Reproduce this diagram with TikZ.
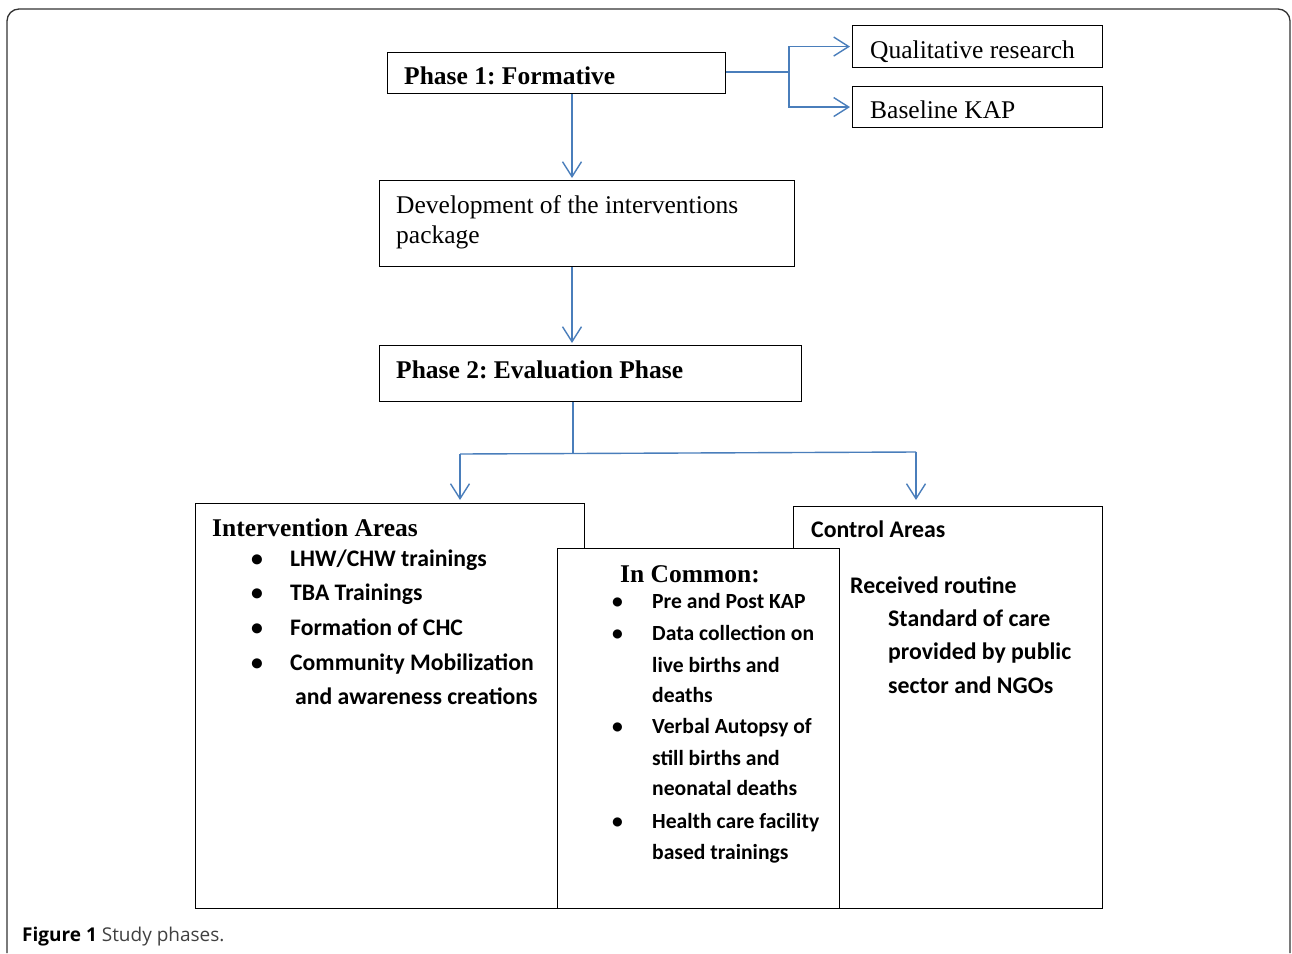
\documentclass[tikz,border=0pt]{standalone}
\usepackage{fontspec}
\setmainfont{Liberation Serif}
\newfontfamily\carl{Carlito}
\newfontfamily\capf{Open Sans}
\usetikzlibrary{arrows.meta}
\definecolor{lineblue}{RGB}{74,126,187}
\frenchspacing
\tikzset{
  box/.style={draw=black, line width=1.1pt, rectangle, inner sep=0pt, anchor=north west, fill=white},
  conn/.style={draw=lineblue, line width=1.4pt},
  arr/.style={conn, -{Straight Barb[length=15pt,width=19pt,line width=1.4pt]}},
  serb/.style={anchor=base west, inner sep=0pt, font=\fontsize{25.5}{30}\selectfont\bfseries},
  serr/.style={anchor=base west, inner sep=0pt, font=\fontsize{25.5}{30}\selectfont},
  sansa/.style={anchor=base west, inner sep=0pt, font=\fontsize{23.7}{28}\selectfont\carl\bfseries},
  sansc/.style={anchor=base west, inner sep=0pt, font=\fontsize{23.8}{28}\selectfont\carl\bfseries},
  sansb/.style={anchor=base west, inner sep=0pt, font=\fontsize{21.6}{25}\selectfont\carl\bfseries},
}
\begin{document}
\begin{tikzpicture}[x=1pt,y=-1pt]
\useasboundingbox (0,0) rectangle (1292,953);
% outer frame (open at bottom)
\draw[line width=1.3pt, black!80, rounded corners=12pt] (7,953) -- (7,9) -- (1290,9) -- (1290,953);

% top boxes
\node[box, minimum width=338pt, minimum height=41pt] (p1) at (387,52) {};
\node[box, minimum width=250pt, minimum height=42pt] (qual) at (852,25) {};
\node[box, minimum width=250pt, minimum height=41pt] (kap) at (852,86) {};
\node[box, minimum width=415pt, minimum height=86pt] (dev) at (379,180) {};
\node[box, minimum width=422pt, minimum height=56pt] (p2) at (379,345) {};

% bottom boxes
\node[box, minimum width=389pt, minimum height=405pt] (iv) at (195,503) {};
\node[box, minimum width=309pt, minimum height=402pt] (ctl) at (793,506) {};
\node[box, minimum width=282pt, minimum height=360pt] (com) at (557,548) {};

% texts
\node[serb] (t1) at (404,84) {Phase 1: Formative};
\node[serr] (tq) at (870,58) {Qualitative research};
\node[serr] (tk) at (870,118) {Baseline KAP};
\node[serr] (td1) at (396,213) {Development of the interventions};
\node[serr] (td2) at (396,243) {package};
\node[serb] (tp2) at (396,378) {Phase 2: Evaluation Phase};

\node[serb] (tiv) at (212,536) {Intervention Areas};
\foreach \y/\n in {566/a,600/b,635/c,670/d}{
  \node[sansa] (bi\n) at (251,\y) {•};
}
\node[sansa] (i1) at (290,566) {LHW/CHW trainings};
\node[sansa] (i2) at (290,600) {TBA Trainings};
\node[sansa] (i3) at (290,635) {Formation of CHC};
\node[sansa] (i4) at (290,670) {Community Mobilization};
\node[sansa] (i5) at (295,704) {and awareness creations};

\node[serb] (tcom) at (620,582) {In Common:};
\foreach \y/\n in {608/a,640/b,733/c,828/d}{
  \node[sansb] (bc\n) at (612,\y) {•};
}
\node[sansb] (c1) at (652,608) {Pre and Post KAP};
\node[sansb] (c2) at (652,640) {Data collection on};
\node[sansb] (c3) at (652,672) {live births and};
\node[sansb] (c4) at (652,702) {deaths};
\node[sansb] (c5) at (652,733) {Verbal Autopsy of};
\node[sansb] (c6) at (652,765) {still births and};
\node[sansb] (c7) at (652,795) {neonatal deaths};
\node[sansb] (c8) at (652,828) {Health care facility};
\node[sansb] (c9) at (652,859) {based trainings};

\node[sansc] (tctl) at (811,537) {Control Areas};
\node[sansc] (k1) at (850,593) {Received routine};
\node[sansc] (k2) at (888,626) {Standard of care};
\node[sansc] (k3) at (888,659) {provided by public};
\node[sansc] (k4) at (888,693) {sector and NGOs};

% caption
\node[anchor=base west, inner sep=0pt, font=\fontsize{19}{23}\selectfont\capf] (cap) at (22,941) {\textbf{Figure 1} \textcolor{black!75}{Study phases.}};

% connectors
\coordinate (j1) at (789,72);
\coordinate (a1) at (572,0);
\coordinate (s) at (573,453);
\coordinate (l) at (460,454);
\coordinate (r) at (916,452);
\draw[conn] (p1.east |- j1) -- (j1);
\draw[arr] (j1) |- ([xshift=-2pt]qual.west);
\draw[arr] (j1) |- ([xshift=-2pt]kap.west);
\draw[arr] (p1.south -| a1) -- ([yshift=2pt]dev.north -| a1);
\draw[arr] (dev.south -| a1) -- ([yshift=2pt]p2.north -| a1);
\draw[conn] (p2.south -| s) -- (s);
\draw[conn] (l) -- (r);
\draw[arr] (l) -- ([yshift=3pt]iv.north -| l);
\draw[arr] (r) -- ([yshift=6pt]ctl.north -| r);
\end{tikzpicture}
\end{document}
